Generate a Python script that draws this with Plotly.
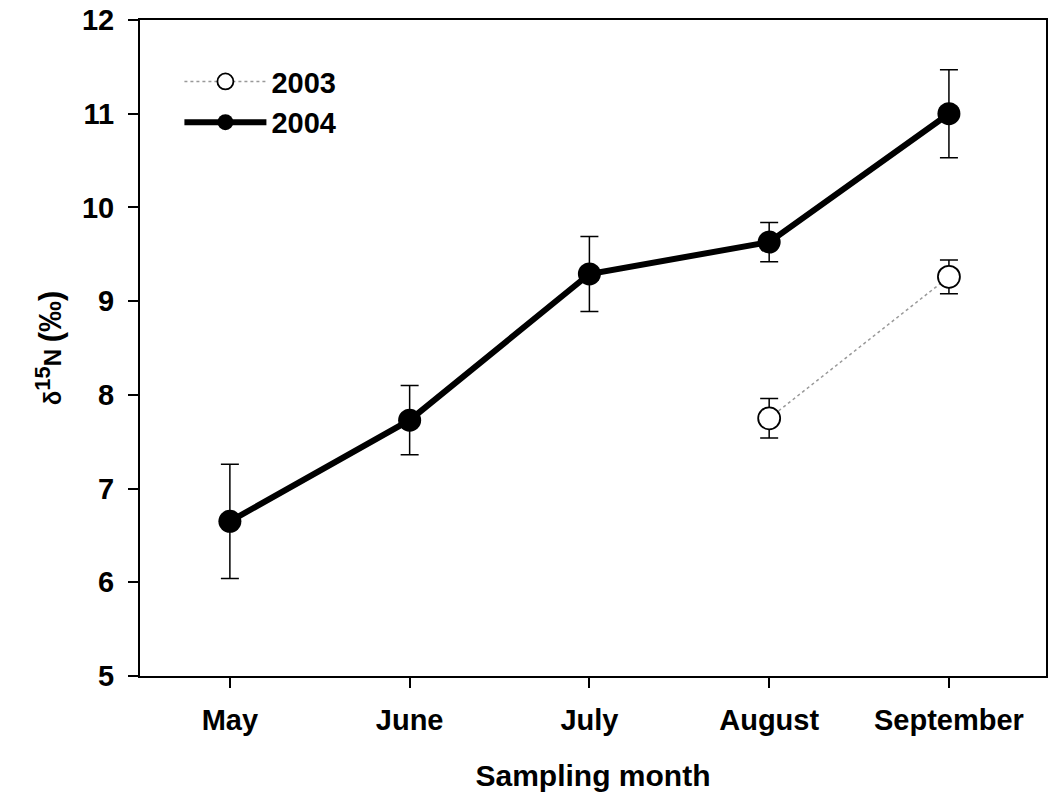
import plotly.graph_objects as go

months = ["May", "June", "July", "August", "September"]
y2004 = [6.65, 7.73, 9.29, 9.63, 11.0]
err2004 = [0.61, 0.37, 0.40, 0.21, 0.47]
months2003 = ["August", "September"]
y2003 = [7.75, 9.26]
err2003 = [0.21, 0.18]
yticks = [5, 6, 7, 8, 9, 10, 11, 12]

xi = {m: i for i, m in enumerate(months)}

FONT = "Liberation Sans, Arial, sans-serif"

fig = go.Figure()
fig.add_trace(go.Scatter(
    x=[xi[m] for m in months2003], y=y2003, name="<b>2003</b>",
    mode="lines+markers",
    line=dict(color="#999999", width=1.5, dash="dot"),
    marker=dict(symbol="circle", size=22, color="white", line=dict(color="black", width=1.8)),
    error_y=dict(type="data", array=err2003, color="black", thickness=1.5, width=9),
))
fig.add_trace(go.Scatter(
    x=[xi[m] for m in months], y=y2004, name="<b>2004</b>",
    mode="lines+markers",
    line=dict(color="black", width=6),
    marker=dict(symbol="circle", size=23, color="black"),
    error_y=dict(type="data", array=err2004, color="black", thickness=1.5, width=9),
))

fig.update_layout(
    width=1050, height=801,
    margin=dict(l=140, r=2, t=20, b=125),
    plot_bgcolor="white", paper_bgcolor="white",
    font=dict(family=FONT, size=29, color="black"),
    showlegend=True,
    legend=dict(x=0.0435, y=0.945, xanchor="left", yanchor="top",
                bgcolor="rgba(0,0,0,0)", font=dict(size=29, family=FONT),
                itemwidth=82, tracegroupgap=0),
)
fig.update_xaxes(
    range=[-0.5, 4.54],
    tickmode="array", tickvals=list(range(len(months))),
    ticktext=["<b>%s</b>" % m for m in months],
    tickfont=dict(size=29, family=FONT),
    showline=True, linecolor="black", linewidth=2, mirror=True,
    ticks="outside", ticklen=10, tickwidth=1.5, tickcolor="black",
    ticklabelstandoff=7,
    showgrid=False, zeroline=False,
    title=dict(text="<b>Sampling month</b>", font=dict(size=30, family=FONT), standoff=30),
)
fig.update_yaxes(
    range=[5, 12],
    tickmode="array", tickvals=yticks,
    ticktext=["<b>%d</b>" % v for v in yticks],
    tickfont=dict(size=29, family=FONT),
    showline=True, linecolor="black", linewidth=2, mirror=True,
    ticks="outside", ticklen=10, tickwidth=1.5, tickcolor="black",
    ticklabelstandoff=8,
    showgrid=False, zeroline=False,
    title=dict(text="<b>δ<sup><span style='font-size:22px'>15</span></sup>N <span style='font-size:31px'>(‰)</span></b>",
               font=dict(size=24, family=FONT), standoff=14),
)

fig.write_html("out.html", config={"displayModeBar": False},
               post_script="document.body.style.margin='0';document.body.style.overflow='hidden';")
